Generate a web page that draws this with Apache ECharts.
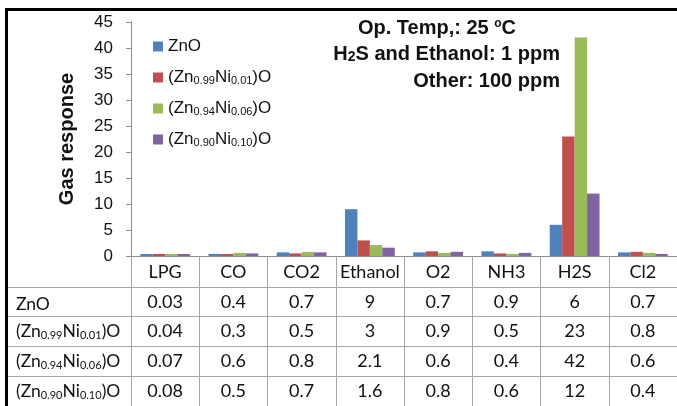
<!DOCTYPE html>
<html>
<head>
<meta charset="utf-8">
<script src="https://cdn.jsdelivr.net/npm/echarts@6/dist/echarts.min.js"></script>
<style>html,body{margin:0;padding:0;background:#fff;}#c{width:677px;height:406px;}</style>
</head>
<body>
<div id="c"></div>
<script>
const categories = ['LPG', 'CO', 'CO2', 'Ethanol', 'O2', 'NH3', 'H2S', 'Cl2'];
const seriesNames = ['ZnO', '(Zn0.99Ni0.01)O', '(Zn0.94Ni0.06)O', '(Zn0.90Ni0.10)O'];
const znO   = [0.03, 0.4, 0.7, 9,   0.7, 0.9, 6,  0.7];
const zn099 = [0.04, 0.3, 0.5, 3,   0.9, 0.5, 23, 0.8];
const zn094 = [0.07, 0.6, 0.8, 2.1, 0.6, 0.4, 42, 0.6];
const zn090 = [0.08, 0.5, 0.7, 1.6, 0.8, 0.6, 12, 0.4];
const yMin = 0, yMax = 45, yStep = 5;
const noteLines = ['Op. Temp,: 25 {sup|o}C', 'H{sub|2}S and Ethanol: 1 ppm', 'Other: 100 ppm'];

const values = [znO, zn099, zn094, zn090];
const colors = ['#4F81BD', '#C0504D', '#9BBB59', '#8064A2'];
const toRich = n => n.replace(/(\d\.\d\d)/g, '{s|$1}');
const gridLine = '#a6a6a6';
const rowOffsets = [31, 60, 90, 120];
const AXIS_Y = 256;

const chart = echarts.init(document.getElementById('c'), null, {renderer: 'canvas'});

const xAxes = [{
  type: 'category', data: categories, gridIndex: 0, position: 'bottom',
  axisLine: {lineStyle: {color: '#8c8c8c', width: 1}},
  axisTick: {show: true, interval: 0, length: 150, lineStyle: {color: gridLine}},
  axisLabel: {interval: 0, margin: 7, color: '#111', fontFamily: 'Lato', fontSize: 18}
}];
values.forEach((arr, k) => {
  xAxes.push({
    type: 'category', data: categories, gridIndex: 0, position: 'bottom',
    offset: rowOffsets[k],
    axisLine: {show: true, lineStyle: {color: gridLine, width: 1}},
    axisTick: {show: false},
    axisLabel: {interval: 0, margin: 6, color: '#111', fontFamily: 'Lato', fontSize: 18,
      formatter: (v, i) => String(arr[i])}
  });
});

const graphic = [
  {type: 'rect', shape: {x: 6.5, y: 9.5, width: 720, height: 440}, style: {fill: null, stroke: '#000', lineWidth: 3}, silent: true}
];
for (let k = 0; k < 4; k++) {
  const yLine = AXIS_Y + rowOffsets[k] + 0.5;
  graphic.push({type: 'line', shape: {x1: 8, y1: yLine, x2: 131, y2: yLine},
    style: {stroke: gridLine, lineWidth: 1}, silent: true});
  graphic.push({type: 'text', left: 16, top: yLine + (k === 0 ? 8 : 6),
    style: {text: toRich(seriesNames[k]), font: '17.5px Lato', fill: '#111',
      rich: {s: {font: '11px Lato', fill: '#111', verticalAlign: 'bottom'}}}, silent: true});
}
// annotation block
graphic.push({type: 'text', x: 437, y: 28, style: {text: noteLines[0], font: 'bold 20px "Liberation Sans"', fill: '#111', align: 'center', verticalAlign: 'middle',
  rich: {sup: {font: 'bold 12px "Liberation Sans"', fill: '#111', verticalAlign: 'top'}}}, silent: true});
graphic.push({type: 'text', x: 560, y: 54, style: {text: noteLines[1], font: 'bold 20px "Liberation Sans"', fill: '#111', align: 'right', verticalAlign: 'middle',
  rich: {sub: {font: 'bold 14px "Liberation Sans"', fill: '#111', verticalAlign: 'bottom'}}}, silent: true});
graphic.push({type: 'text', x: 560, y: 81, style: {text: noteLines[2], font: 'bold 20px "Liberation Sans"', fill: '#111', align: 'right', verticalAlign: 'middle'}, silent: true});

const option = {
  animation: false,
  backgroundColor: '#fff',
  color: colors,
  grid: {left: 131, right: -6, top: 22, bottom: 150, containLabel: false},
  legend: {
    orient: 'vertical', left: 153, top: 38, padding: 0, itemWidth: 10, itemHeight: 10, itemGap: 14,
    itemTextGap: 5, icon: 'rect', data: seriesNames,
    formatter: n => toRich(n),
    textStyle: {fontFamily: 'Liberation Sans', fontSize: 17, color: '#111',
      rich: {s: {fontFamily: 'Liberation Sans', fontSize: 11, color: '#111', verticalAlign: 'bottom'}}}
  },
  xAxis: xAxes,
  yAxis: {
    type: 'value', min: yMin, max: yMax, interval: yStep,
    name: 'Gas response', nameLocation: 'middle', nameGap: 54,
    nameTextStyle: {fontFamily: 'Liberation Sans', fontWeight: 'bold', fontSize: 20, color: '#111'},
    axisLine: {show: true, lineStyle: {color: '#8c8c8c'}},
    axisTick: {show: true, length: 5, lineStyle: {color: '#8c8c8c'}},
    splitLine: {show: false},
    axisLabel: {margin: 18, fontFamily: 'Liberation Sans', fontSize: 17, color: '#111'}
  },
  series: values.map((arr, k) => ({
    type: 'bar', name: seriesNames[k], data: arr, xAxisIndex: 0,
    barGap: '0%', barCategoryGap: '27%', barMinHeight: 2
  })),
  graphic: graphic
};
chart.setOption(option);
</script>
</body>
</html>
